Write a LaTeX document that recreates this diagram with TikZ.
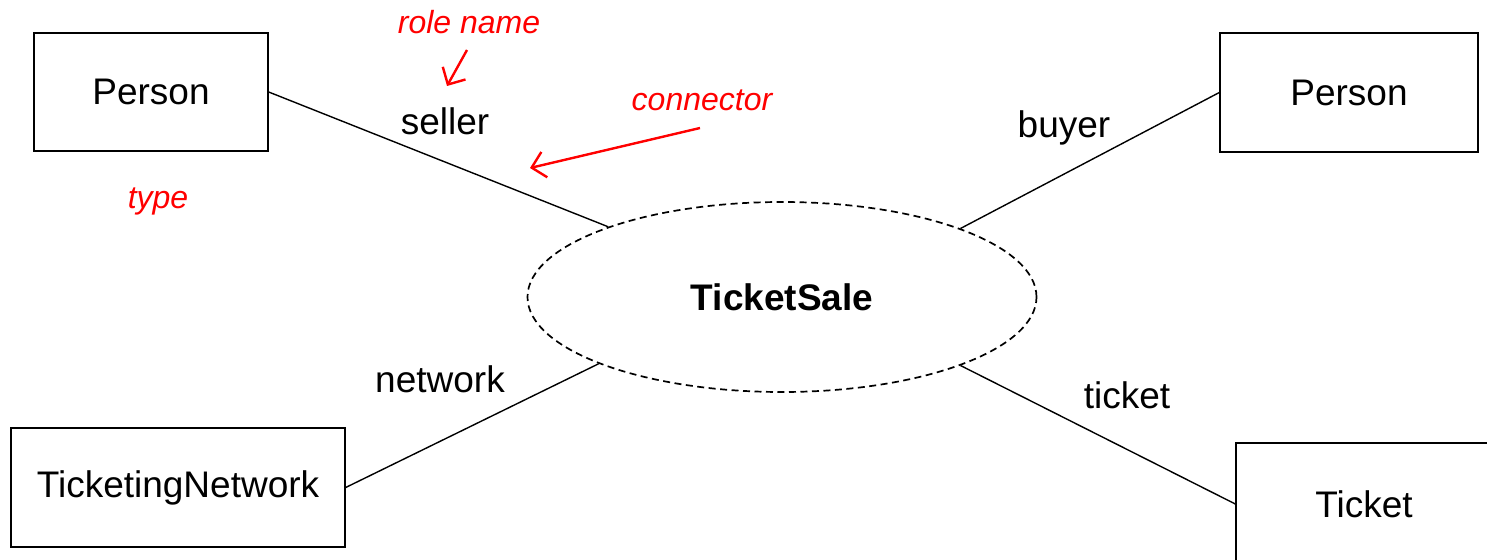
\documentclass[tikz,border=0pt]{standalone}
\usepackage{fontspec}
\setmainfont{Liberation Sans}
\usetikzlibrary{shapes.geometric,arrows.meta}
\definecolor{notered}{RGB}{255,0,0}
\begin{document}
\begin{tikzpicture}[x=1pt,y=-1pt,
  typebox/.style={draw=black,line width=1.4pt,rectangle,inner sep=0pt,
    font=\fontsize{37}{44}\selectfont},
  rolelabel/.style={font=\fontsize{37}{44}\selectfont,inner sep=0pt},
  note/.style={text=notered,font=\fontsize{32}{38}\selectfont\itshape,inner sep=0pt},
  noteline/.style={draw=notered,line width=2.4pt,-{Straight Barb[length=13pt,width=26pt,line width=2.4pt]}},
  link/.style={draw=black,line width=1.4pt}]
\useasboundingbox (0,0) rectangle (1487,559);
\clip (0,0) rectangle (1487,559);

% participant types
\node[typebox,minimum width=234pt,minimum height=118pt] (sellerT) at (151,92) {Person};
\node[typebox,minimum width=258pt,minimum height=119pt] (buyerT) at (1349,92.5) {Person};
\node[typebox,minimum width=334pt,minimum height=119pt] (netT) at (178,487.5) {TicketingNetwork};
\node[typebox,minimum width=256pt,minimum height=122pt] (ticketT) at (1364,504) {Ticket};

% the association
\node[ellipse,draw=black,line width=1.7pt,dash pattern=on 7pt off 4.5pt,
  minimum width=509pt,minimum height=190pt,inner sep=0pt,
  font=\fontsize{37}{44}\selectfont\bfseries] (sale) at (782,297) {TicketSale};

% connectors
\draw[link] (sellerT.east) -- (sale.158);
\draw[link] (buyerT.west) -- (sale.21.3);
\draw[link] (netT.east) -- (sale.200.6);
\draw[link] (ticketT.west) -- (sale.339.6);

% role names
\node[rolelabel] (r1) at (445,121) {seller};
\node[rolelabel] (r2) at (1064,128) {buyer};
\node[rolelabel] (r3) at (440,379) {network};
\node[rolelabel] (r4) at (1127,395) {ticket};

% annotations
\node[note] (nRole) at (469,22) {role name};
\node[note] (nConn) at (702,100) {connector};
\node[note] (nType) at (158,201) {type};
\coordinate (roleTip) at (447,86);
\coordinate (roleTail) at (467,50);
\coordinate (connTip) at (530,168);
\coordinate (connTail) at (700,128);
\draw[noteline] (roleTail) -- (roleTip);
\draw[noteline] (connTail) -- (connTip);
\end{tikzpicture}
\end{document}
